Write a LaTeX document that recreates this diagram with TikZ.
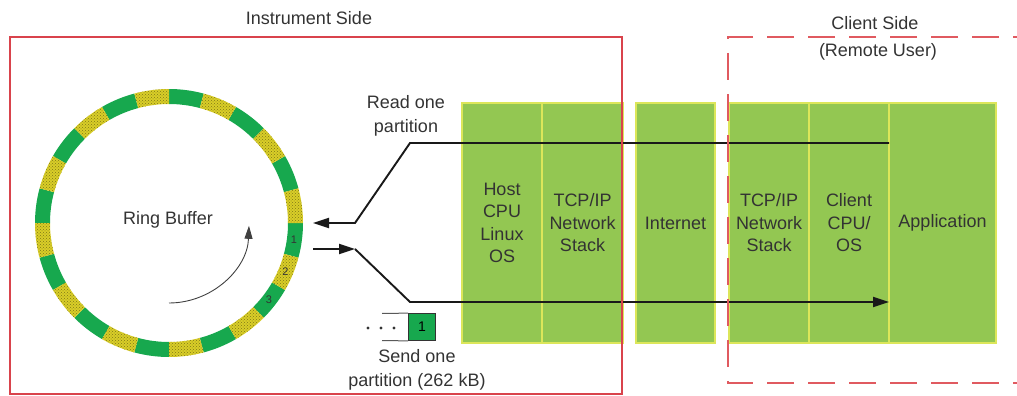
\documentclass[tikz,border=0pt]{standalone}
\usepackage{fontspec}
\setmainfont{Liberation Sans}
\usetikzlibrary{arrows.meta,patterns}
\definecolor{ringgreen}{HTML}{17A84E}
\definecolor{ringyellow}{HTML}{D9CE28}
\definecolor{dotcol}{HTML}{7F7818}
\definecolor{blkgreen}{HTML}{93C752}
\definecolor{blkedge}{HTML}{DCE65A}
\definecolor{boxred}{HTML}{D9434C}
\definecolor{dashred}{HTML}{E05A60}
\definecolor{txt}{HTML}{333333}
\begin{document}
\begin{tikzpicture}[x=1pt,y=-1pt,
  lbl/.style={font=\fontsize{18}{23.5}\selectfont, text=txt, align=center, inner sep=0pt},
  blk/.style={fill=blkgreen, draw=blkedge, line width=1.2pt, minimum height=240pt,
              inner sep=0pt, font=\fontsize{18}{22.5}\selectfont, align=center, text=txt},
  num/.style={font=\fontsize{11}{13}\selectfont, text=txt, inner sep=0pt},
  flow/.style={draw=black!90, line width=1.9pt},
  tipend/.style={-{Triangle[length=16pt,width=10pt]}}
]
\useasboundingbox (0,0) rectangle (1017,396);

% ---- ring buffer ----
\coordinate (rc) at (169,223);
\begin{scope}[shift={(169,223)}]
  \foreach \a in {0,30,...,330} {
    \fill[ringgreen] (\a:134) arc[start angle=\a, end angle=\a+15, radius=134]
      -- (\a+15:119) arc[start angle=\a+15, end angle=\a, radius=119] -- cycle;
  }
  \foreach \a in {15,45,...,345} {
    \path[preaction={fill=ringyellow}, pattern=crosshatch dots, pattern color=dotcol]
      (\a:134) arc[start angle=\a, end angle=\a+15, radius=134]
      -- (\a+15:119) arc[start angle=\a+15, end angle=\a, radius=119] -- cycle;
  }
  \node[num] (n1) at (7.5:126) {1};
  \node[num] (n2) at (22.5:126) {2};
  \node[num] (n3) at (37.5:126) {3};
  \draw[black!75, line width=0.9pt, -{Triangle[length=13pt,width=8pt]}]
    (90:80) arc[start angle=90, end angle=2, radius=80];
\end{scope}
\node[lbl] (rb) at (168,220) {Ring Buffer};

% ---- blocks ----
\node[blk, minimum width=80pt] (host) at (502,223) {Host\\CPU\\Linux\\OS};
\node[blk, minimum width=81pt] (tcp1) at (582.5,223) {TCP/IP\\Network\\Stack};
\node[blk, minimum width=79pt] (inet) at (675.5,223) {Internet};
\node[blk, minimum width=80pt] (tcp2) at (769,223) {TCP/IP\\Network\\Stack};
\node[blk, minimum width=80pt] (ccpu) at (849,223) {Client\\CPU/\\OS};
\node[blk, minimum width=107pt] (app) at (942.5,223) {Application};

% ---- flows ----
\coordinate (rdStart) at (889,143);
\coordinate (rdTop) at (410,143);
\coordinate (rdKnee) at (355,223);
\coordinate (rdEnd) at (313,223);
\coordinate (sdStart) at (313,249);
\coordinate (sdKnee) at (355,249);
\coordinate (sdLow) at (410,302);
\coordinate (sdEnd) at (889,302);
\draw[flow, tipend] (rdStart) -- (rdTop) -- (rdKnee) -- (rdEnd);
\draw[flow, tipend] (sdStart) -- (sdKnee);
\draw[flow, tipend] (sdKnee) -- (sdLow) -- (sdEnd);

\node[lbl] (readlbl) at (406,116) {Read one\\partition};
\node[lbl] (sendlbl) at (417,370) {Send one\\partition (262 kB)};

% ---- partition packet ----
\node[fill=ringgreen, draw=black!80, line width=0.8pt, minimum size=27pt, inner sep=0pt,
      font=\fontsize{14}{16}\selectfont] (p1) at (422,327) {1};
\coordinate (pTL) at (382,313.5);
\coordinate (pBL) at (382,340.5);
\draw[black!65, line width=1pt] (p1.north west) -- (pTL);
\draw[black!65, line width=1pt] (p1.south west) -- (pBL);
\fill[txt] (368,328) circle[radius=1.7];
\fill[txt] (381,328) circle[radius=1.7];
\fill[txt] (394,328) circle[radius=1.7];

% ---- sides ----
\draw[boxred, line width=1.3pt] (10,37) rectangle (622,394);
\node[lbl] (inst) at (309,18) {Instrument Side};
\draw[dashred, line width=1.6pt, dash pattern=on 27pt off 14pt]
  (1040,37) -- (728,37) -- (728,383) -- (1040,383);
\node[lbl] (client) at (875,23) {Client Side};
\node[lbl] (remote) at (878,52) {(Remote User)};
\end{tikzpicture}
\end{document}
